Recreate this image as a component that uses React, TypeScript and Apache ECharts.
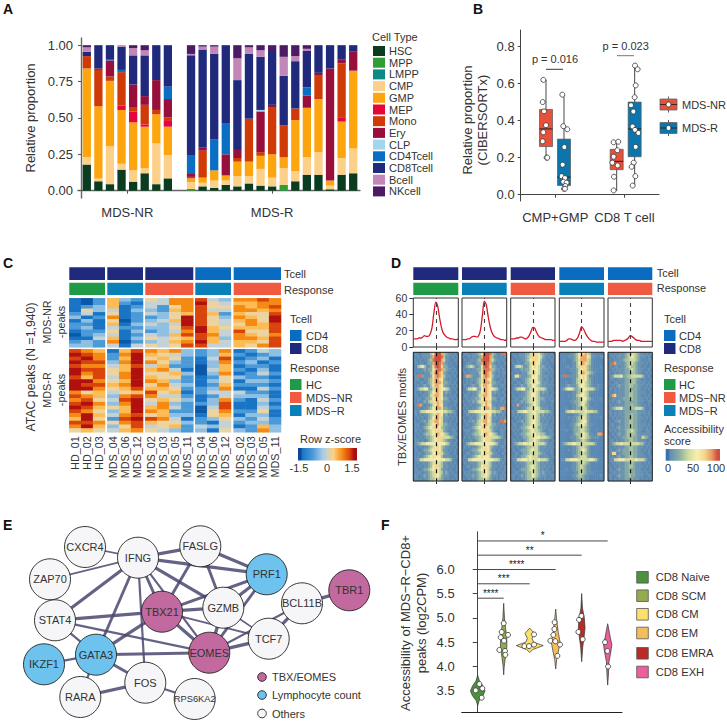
import React, { useEffect, useRef } from "react";
import * as echarts from "echarts";

const FONT = "'Liberation Sans', Arial, sans-serif";
const INK = "#333";

// ---------- Panel A ----------
const sampleSlots = ["n1","n2","n3","n4","n5","n6","n7","n8","gap","r1","r2","r3","r4","r5","r6","r7","r8","r9","r10","r11","r12","r13","r14","r15"];
const HSC = [.18,.065,.045,.145,.062,.12,.045,.085,null,0,.03,.02,.04,.03,.05,.035,.03,0,.065,.11,.11,.01,.11,.12];
const MPP = [0,0,0,0,0,0,0,0,null,.012,0,0,0,0,0,0,0,.04,0,0,0,0,0,0];
const LMPP = [0,0,0,0,0,0,0,0,null,0,0,0,0,0,0,0,0,0,0,0,0,0,0,0];
const CMP = [.05,.018,.26,.04,.078,.035,.28,.16,null,.048,.025,.05,.03,.07,.05,.115,.06,.115,.07,.12,.155,.025,.115,.17];
const GMP = [.61,.497,.45,.37,.33,.285,.2,.195,null,.025,.035,.07,.035,.1,.1,.09,.16,.075,.35,.34,.365,.035,.25,.535];
const MEP = [0,0,0,.03,.075,.015,0,.045,null,0,0,0,0,0,0,0,0,0,0,0,0,0,.03,0];
const Mono = [.085,.25,.03,.23,.025,.135,.03,.02,null,.01,.185,0,0,.025,.295,.025,.32,.22,.08,0,.165,0,.37,0];
const Ery = [0,.01,.11,0,.16,.06,.205,.125,null,.02,.02,0,.145,.055,0,.28,.02,0,0,.085,.015,.77,.025,.13];
const CLP = [0,0,0,0,0,0,0,0,null,0,0,0,0,0,0,.01,0,0,0,0,0,0,0,0];
const CD4T = [0,0,.005,.015,0,0,0,.085,null,.125,0,.215,.215,0,0,0,0,0,0,.055,0,0,0,0];
const CD8T = [.03,.16,.1,.16,.2,.28,.24,.285,null,.69,.675,.585,.535,.48,.445,.365,.37,.34,.325,.25,.19,.16,.1,.045];
const Bcell = [.03,0,0,.01,.05,.035,0,0,null,.01,.02,.05,0,.15,.045,.045,0,.13,.035,.015,0,0,0,0];
const NKcell = [.015,0,0,0,.02,.035,0,0,null,.06,.01,.01,0,.09,.015,.035,.04,.08,.075,.025,0,0,0,0];
const cellTypes: [string, (number | null)[], string][] = [
  ["HSC", HSC, "#0a3d1f"], ["MPP", MPP, "#2e9e35"], ["LMPP", LMPP, "#0e8a85"], ["CMP", CMP, "#fdd08a"],
  ["GMP", GMP, "#fda50f"], ["MEP", MEP, "#e5073a"], ["Mono", Mono, "#cf3a06"], ["Ery", Ery, "#970f3a"],
  ["CLP", CLP, "#a2d6ee"], ["CD4Tcell", CD4T, "#0a6fc4"], ["CD8Tcell", CD8T, "#1f2a7c"], ["Bcell", Bcell, "#c286b8"],
  ["NKcell", NKcell, "#4d1b66"],
];

// ---------- Panel B: [x, low, q1, median, q3, high] ----------
const boxNR = [[.366,.2,.26,.355,.46,.62],[1.388,.02,.135,.18,.245,.28]];
const boxR = [[.626,.03,.05,.095,.30,.54],[1.648,.05,.205,.355,.50,.695]];
const pointsNR = [[.327,.62],[.318,.50],[.337,.45],[.366,.375],[.327,.337],[.318,.288],[.375,.2],[.385,.2],
  [1.344,.283],[1.412,.286],[1.397,.24],[1.344,.205],[1.325,.173],[1.402,.158],[1.349,.097],[1.344,.023]];
const pointsR = [[.602,.54],[.616,.37],[.674,.353],[.631,.257],[.607,.162],[.592,.10],[.640,.09],[.616,.07],[.664,.065],[.645,.047],[.626,.032],[.640,.032],
  [1.653,.697],[1.691,.677],[1.663,.59],[1.648,.526],[1.595,.483],[1.629,.449],[1.619,.368],[1.653,.35],[1.701,.333],[1.663,.258],[1.634,.173],[1.605,.151],[1.658,.10],[1.619,.049]];

// ---------- Panel C: digits 0..9 stand for z-score -1.5..1.5 ----------
const cSamples = [["HD_01","HD_02","HD_03"],["MDS_04","MDS_06","MDS_12"],["MDS_02","MDS_03","MDS_05","MDS_11"],["MDS_04","MDS_06","MDS_12"],["MDS_02","MDS_03","MDS_05","MDS_11"]];
const cTopRows = [
  "102 632 5477 843 7787","102 621 4477 954 6677","123 612 4257 855 7678","153 413 3267 844 7767",
  "241 512 4356 862 6558","312 712 2359 853 7659","131 502 3469 854 6759","221 613 4349 854 5768",
  "231 422 3358 965 6668","122 513 2347 964 8558","023 412 4368 874 7657","114 613 5456 863 7768",
  "232 702 3467 964 6658","332 414 5458 844 6578",
];
const cBottomRows = [
  "876 168 7673 237 1243","987 279 6543 236 2123","897 269 5652 148 1231","988 379 7532 137 2312",
  "877 468 4622 036 1221","988 569 6741 046 2131","978 579 5563 037 1242","868 479 6552 125 3221",
  "997 569 7632 135 1332","988 679 5743 126 2221","997 568 6652 237 1142","756 456 8561 244 4221",
  "876 378 7442 124 3331","785 489 5653 137 2142","897 379 4732 238 1131","986 569 6742 048 1142",
  "875 369 7622 057 2251","796 478 5633 156 1331","695 289 8741 235 3242","887 578 6553 214 2332",
  "796 358 4562 434 1263","565 467 5432 315 3273",
];

// ---------- Panel D ----------
const lineProfile1 = [10,10,10,11,11,12,14,13,13,16,24,42,55,50,36,24,17,14,12,11,10,10,9,9,10];
const lineProfile2 = [9,9,9,10,10,12,13,13,12,14,22,40,56,52,38,26,18,14,12,11,10,9,9,8,9];
const lineProfile3 = [10,10,10,11,11,12,12,11,10,11,14,19,24,23,18,14,12,11,10,9,9,9,9,8,8];
const lineProfile4 = [7,7,7,7,8,10,10,9,8,9,12,18,25,22,17,13,10,8,7,7,6,6,6,6,6];
const lineProfile5 = [7,7,7,8,8,8,8,8,7,8,9,11,14,13,11,9,8,8,7,7,7,7,7,7,7];
const dLines = [lineProfile1, lineProfile2, lineProfile3, lineProfile4, lineProfile5];

const dHeat1 = [
"010011113689973211010","001011112799983110101","100101123899974110011","010110122789872101001",
"003453112689862210100","001012122578873211010","100101113688762100101","018821112578763111010",
"011001123677652101001","100110123677762211010","001012113577652110101","012445522467655431010",
"100101123567651211001","010011124677651101010","001101223566652210101","101012134667641110011",
"018710112457651101010","001001123567762211001","110344555555554433210","010101123467651201010",
"001010123567641110101","100112134677541101001","011001234567642211010","101012345666532110101",
"010101234566642100110","001012334567654320111","100101223456664443210","011010123456643211001",
"012344555555555431010","100101123456532110101","010012234566531101010","001101223556642110010",
"101012345655531111001","011445555555555443100","001011123455431101010","100101123566431110101",
"010012234565421101001","001101123465431210100","110012123465421110011","010101123354321010101"];
const dHeat2 = [
"011001123689983210188","100101112799973110101","010011123899974211010","001110122799872101001",
"012343112689862210100","100101122688873211010","010011113688762101011","017721112578763111010",
"001011123677652100101","101010123677762211001","010012113577652110110","002445522567655431001",
"100101123567651211010","011001124677651101001","001011223566652210110","100102134667641110101",
"010010112457651101010","101001123567762211778","010344555555554433201","001101123467651201010",
"100010123567641110101","010112134677541101887","001001234567642211010","100012345666532110101",
"011101234566642100110","001012334567654320110","010101223456664443210","100010123456643211001",
"002344555555555431001","010101123456532110110","100012234566531101001","001101223556642110010",
"010012345655531111001","101445555555555443101","010011123455431101010","001101123566431110101",
"100012234565421101001","010101123465431210010","001012123465421110101","100101123354321010110"];
const dHeat3 = [
"010011122456653211010","001011123466654210101","100101123566653110011","010110122466552101001",
"003443112456542210100","001012122455542111010","100101113456542100101","016621112355532111010",
"011001123455532101001","100110123456542111010","001012113355432110101","012445522445544431010",
"100101123455431211001","010011123455431101010","001101223455432210101","101012123445431110011",
"010710112345431101010","001001123445542111001","110344554455444433210","010101123445431201010",
"001010123445431110101","100112123455431101001","011001223455432111010","101012234554422110101",
"010101223454432100110","001012234455443320111","100101223445554443210","011010123445432211001",
"012344554555444431010","100101123344421110101","010012223454421101010","001101223444432110010",
"101012234544421111001","011445554544454443100","001011123344321101010","100101123454321110101",
"010012223454321101001","001101123354321210100","110012123354321110011","010101123343211010101"];
const dHeat4 = [
"000001123566743100000","000011123577754110011","001000123677743100000","000000113567643100000",
"000110113466632100010","000001112456632100000","000000112567643210000","018811112456531100000",
"000000113456532100000","000100113455432100000","000121112455432100100","012455422345544431100",
"000000112345431100000","000010113455431000000","000000112345532100010","000001122345421000000",
"000000112345321000000","000100112234421100000","000344544444544433100","000000011234421000000",
"000010112345421000010","000000112345521000000","000001123455421100000","000000122344321000000",
"000100122344321000000","000000123345431100778","000001112345432111100","000000112234321000000",
"012344554444444431000","000000112344321000000","000010112345421000000","000000112344321000000",
"000000122344421100000","011445555444445543100","000000112344321000000","000000112343211000000",
"000100112343211000000","000000011343211100000","000000112332110000010","000000011232110000000"];
const dHeat5 = [
"010101112344432110101","001011112345432111010","100101123344432101011","018711112344321110101",
"010110112343321101001","001011112234321110010","100101112233321100101","012444522334444431010",
"011001112233321101001","100110112233321111010","001012112233221110101","010101112232221101010",
"100101112233221111001","017611112233221101010","001101122233221110101","101012112222221110011",
"010101112223221101010","012344522223344431001","110101112222221111010","010101112223221101010",
"001010112223221110101","100112112233221101001","011001112233221111010","101012112233221110101",
"010101112334321100110","001012112333321111111","100101122333221143210","011010112233221111001",
"012344544444444331010","100101112233221110101","010012122233221101010","016601122233221110010",
"101012112233221111001","011445554444454443100","001011112233211101010","100101112233211110101",
"010012112232211101001","001101112232211110100","110012112232211110011","010101112222111010101"];
const dHeats = [dHeat1, dHeat2, dHeat3, dHeat4, dHeat5];
const dCols = 21;

// ---------- Panel E ----------
const geneNodes: [string, number, number, string, number][] = [
  ["CXCR4",85,547,"o",11],["IFNG",138,557.7,"o",11],["FASLG",200.3,546.3,"o",11],["PRF1",266.7,574.3,"l",11],
  ["TBR1",349.3,590.3,"t",11],["ZAP70",50,579.3,"o",11],["BCL11B",302,603.3,"o",11],["STAT4",55,620.3,"o",11],
  ["TBX21",162,611.7,"t",11],["GZMB",223.3,607.7,"o",11],["TCF7",268.7,638.7,"o",11],["GATA3",96,654.7,"l",11],
  ["EOMES",209.3,652.7,"t",11],["IKZF1",44,664.3,"l",11],["FOS",145.3,682.7,"o",11],["RARA",80.3,697,"o",11],["RPS6KA2",194.7,699,"o",9.3],
];
const geneEdges: [string, string, number][] = [
  ["CXCR4","IFNG",1.6],["ZAP70","IFNG",1.6],["IFNG","FASLG",3],["IFNG","PRF1",3],["IFNG","TBX21",2.6],["IFNG","GZMB",3],
  ["IFNG","STAT4",3],["IFNG","GATA3",2.6],["IFNG","EOMES",2],["IFNG","FOS",2],["FASLG","PRF1",3],["FASLG","TBX21",2.6],
  ["FASLG","GZMB",2.6],["PRF1","GZMB",3],["PRF1","TBX21",2.6],["PRF1","EOMES",2.6],["TBX21","GZMB",3],["TBX21","EOMES",3],
  ["TBX21","STAT4",3],["TBX21","GATA3",3],["TBX21","TCF7",1.6],["GZMB","EOMES",3],["GZMB","TCF7",1.6],["EOMES","TCF7",3],
  ["EOMES","GATA3",2.6],["EOMES","STAT4",2],["EOMES","BCL11B",2],["TCF7","BCL11B",3],["BCL11B","TBR1",3],["STAT4","GATA3",2],
  ["GATA3","IKZF1",2],["GATA3","FOS",2.6],["GATA3","RARA",2],["FOS","RARA",3],["FOS","RPS6KA2",2],
];

// ---------- Panel F ----------
const violinNames = ["CD8 Naive","CD8 SCM","CD8 CM","CD8 EM","CD8 EMRA","CD8 EXH"];
const violinColors = ["#4f9040","#93ab4f","#fbe06b","#f4be5d","#b92c25","#ea5f9c"];
const violinNaive = [[3.2,0],[3.3,.06],[3.4,.2],[3.5,.28],[3.6,.2],[3.7,.07],[3.82,0]];
const violinSCM = [[3.83,0],[4.0,.02],[4.2,.07],[4.4,.12],[4.6,.12],[4.8,.07],[5.0,.03],[5.3,0]];
const violinCM = [[4.29,0],[4.35,.12],[4.43,.52],[4.5,.15],[4.58,.09],[4.68,.18],[4.79,0]];
const violinEM = [[3.95,0],[4.15,.04],[4.3,.1],[4.5,.17],[4.7,.1],[4.9,.05],[5.18,0]];
const violinEMRA = [[4.1,0],[4.4,.04],[4.6,.09],[4.8,.13],[5.0,.1],[5.2,.03],[5.5,0]];
const violinEXH = [[3.62,0],[3.85,.03],[4.1,.05],[4.3,.12],[4.45,.16],[4.6,.1],[4.88,0]];
const violins = [violinNaive, violinSCM, violinCM, violinEM, violinEMRA, violinEXH];
const violinPoints = [
  [.064,3.64],[.18,3.55],[-.077,3.51],[.154,3.36],
  [1,4.89],[.923,4.71],[1.167,4.65],[.885,4.6],[1.013,4.53],[.833,4.34],[1.051,4.32],[1.064,4.24],
  [2.167,4.66],[1.795,4.42],[1.974,4.42],[2.167,4.45],
  [2.96,4.91],[2.95,4.77],[2.91,4.65],[2.795,4.53],[2.987,4.52],[3.167,4.45],[3.064,4.22],
  [3.987,5.04],[3.897,4.96],[3.872,4.71],[4.038,4.56],
  [4.897,4.5],[4.987,4.32],[5.013,4.0],
];
const brackets: [number, number, string][] = [[1,5.404,"****"],[2,5.70,"***"],[3,5.993,"****"],[4,6.288,"**"],[5,6.58,"*"]];

// ---------- colours ----------
const C_CD8 = "#1f2a7c", C_CD4 = "#0a6cc0", C_HC = "#1f9a46", C_NR = "#f05a40", C_R = "#0a80b8";
const zColors = ["#0c58a8","#1a74c6","#4b9ad8","#8fc0e2","#c4d2d6","#ecd3a0","#fdbb55","#f58a12","#d8440c","#b0100e"];
const scoreColors = ["#5a88b4","#6a93b1","#85a9a6","#a8c2a0","#cfd9a4","#f0eaae","#f5d88f","#eba66a","#dc7350","#cc4f3e"];

function buildOption() {
  const grids: any[] = [], xAxes: any[] = [], yAxes: any[] = [], series: any[] = [], g: any[] = [];

  const panel = (grid: any, x: any, y: any) => {
    const i = grids.length;
    grids.push({ containLabel: false, ...grid });
    xAxes.push({ gridIndex: i, ...x });
    yAxes.push({ gridIndex: i, ...y });
    return i;
  };
  const text = (x: number, y: number, s: string, size = 11, o: any = {}) =>
    g.push({
      type: "text", x, y, rotation: o.rot || 0, z: 60,
      style: { text: s, fontSize: size, fontFamily: FONT, fontWeight: o.bold ? "bold" : "normal", fill: o.fill || INK, align: o.align || "left", verticalAlign: "middle", lineHeight: o.lh },
    });
  const rect = (x: number, y: number, w: number, h: number, fill: any, stroke?: string) =>
    g.push({ type: "rect", z: 60, shape: { x, y, width: w, height: h }, style: { fill, stroke, lineWidth: stroke ? 0.8 : 0 } });
  const line = (x1: number, y1: number, x2: number, y2: number, stroke: string, lw = 1) =>
    g.push({ type: "line", z: 60, shape: { x1, y1, x2, y2 }, style: { stroke, lineWidth: lw } });
  const circle = (cx: number, cy: number, r: number, fill: string, stroke = "#222") =>
    g.push({ type: "circle", z: 61, shape: { cx, cy, r }, style: { fill, stroke, lineWidth: 0.9 } });

  [["A",3,9],["B",473,9],["C",3,263],["D",391,263],["E",3,525],["F",381,525]].forEach(([l,x,y]: any) => text(x, y, l, 14, { bold: true, fill: "#111" }));

  // ----- A -----
  const aBars = panel({ left: 81, top: 37.9, width: 278, height: 160.1 },
    { type: "category", data: sampleSlots, show: false },
    { type: "value", min: -0.05, max: 1.05, show: false });
  panel({ left: 78, top: 37.9, width: 282, height: 160.1 },
    { type: "value", min: -0.26, max: 24.09, splitLine: { show: false },
      axisLine: { lineStyle: { color: "#666", width: 1.4 } }, axisTick: { length: 3, lineStyle: { color: "#555" }, customValues: [4, 16.5] },
      axisLabel: { customValues: [4, 16.5], fontSize: 13, color: INK, margin: 8, formatter: (v: number) => (v < 10 ? "MDS-NR" : "MDS-R") } },
    { type: "value", min: -0.05, max: 1.05, splitLine: { show: false }, name: "Relative proportion", nameLocation: "middle", nameGap: 41,
      nameTextStyle: { fontSize: 13, color: INK },
      axisLine: { show: true, lineStyle: { color: "#666", width: 1.4 } }, axisTick: { show: true, length: 3, lineStyle: { color: "#555" }, customValues: [0, .25, .5, .75, 1] },
      axisLabel: { customValues: [0, .25, .5, .75, 1], fontSize: 13, color: INK, margin: 5, formatter: (v: number) => v.toFixed(2) } });
  cellTypes.forEach(([name, data, color]) =>
    series.push({ type: "bar", name, data, stack: "a", xAxisIndex: aBars, yAxisIndex: aBars, barWidth: 8.3, itemStyle: { color } }));
  text(372, 37, "Cell Type", 11);

  // ----- B -----
  const bI = panel({ left: 520.7, top: 30, width: 138.3, height: 171 },
    { type: "value", min: 0, max: 2, splitLine: { show: false },
      axisLine: { lineStyle: { color: "#444" } }, axisTick: { length: 3, lineStyle: { color: "#444" }, customValues: [.5, 1.5] },
      axisLabel: { customValues: [.5, 1.5], fontSize: 13, color: INK, margin: 10, formatter: (v: number) => (v < 1 ? "CMP+GMP" : "CD8 T cell") } },
    { type: "value", min: -0.034, max: 0.889, splitLine: { show: false },
      axisLine: { show: true, lineStyle: { color: "#444" } }, axisTick: { show: true, length: 3, lineStyle: { color: "#444" }, customValues: [0, .2, .4, .6, .8] },
      axisLabel: { customValues: [0, .2, .4, .6, .8], fontSize: 13, color: INK, margin: 6, formatter: (v: number) => v.toFixed(1) } });
  const boxSeries = (name: string, data: number[][], fill: string) =>
    series.push({
      type: "custom", name, data, xAxisIndex: bI, yAxisIndex: bI, encode: { x: 0, y: [1, 2, 3, 4, 5] },
      renderItem: (_p: any, api: any) => {
        const x = api.value(0);
        const [cx, lo] = api.coord([x, api.value(1)]);
        const q1 = api.coord([x, api.value(2)])[1], med = api.coord([x, api.value(3)])[1];
        const q3 = api.coord([x, api.value(4)])[1], hi = api.coord([x, api.value(5)])[1];
        const s = { stroke: "#333", lineWidth: 0.9 };
        return { type: "group", children: [
          { type: "line", shape: { x1: cx, y1: hi, x2: cx, y2: lo }, style: s },
          { type: "rect", shape: { x: cx - 6.5, y: q3, width: 13, height: q1 - q3 }, style: { fill, stroke: "#555", lineWidth: 0.7 } },
          { type: "line", shape: { x1: cx - 6.5, y1: med, x2: cx + 6.5, y2: med }, style: { stroke: "#222", lineWidth: 1 } },
        ] };
      },
    });
  boxSeries("MDS-NR", boxNR, "#e8503a");
  boxSeries("MDS-R", boxR, "#0b76ad");
  [pointsNR, pointsR].forEach((data) =>
    series.push({ type: "scatter", data, xAxisIndex: bI, yAxisIndex: bI, symbolSize: 5, z: 5, itemStyle: { color: "#fff", borderColor: "#333", borderWidth: 0.8, opacity: 1 } }));
  text(474.5, 120, "Relative proportion\n(CIBERSORTx)", 13, { rot: Math.PI / 2, align: "center", lh: 15 });
  text(555, 59, "p = 0.016", 11, { align: "center" });
  line(546, 69.3, 563, 69.3, "#222", 0.9);
  text(625.7, 46, "p = 0.023", 11, { align: "center" });
  line(617, 55.7, 634, 55.7, "#777", 1);
  [[104.5, "MDS-NR", "#e8503a"], [128, "MDS-R", "#0b76ad"]].forEach(([y, s, c]: any) => {
    line(668.5, y - 8, 668.5, y + 8, "#333", 0.8);
    rect(660, y - 5.5, 17, 11, c, "#666");
    line(660, y, 677, y, "#222", 0.9);
    circle(668.5, y, 2.5, "#fff", "#333");
    text(682, y, s, 11);
  });

  // ----- C -----
  const cX = [[69.3,105],[107.3,143],[145.3,193.3],[195.3,231],[233.7,281]];
  const cHeatIdx: number[] = [];
  const cBlock = (rows: string[], top: number, h: number, labels: boolean) =>
    cX.forEach(([x0, x1], gi) => {
      const names = cSamples[gi];
      const data: number[][] = [];
      rows.forEach((r, ri) => r.split(" ")[gi].split("").forEach((d, ci) => data.push([ci, ri, (Number(d) - 4.5) / 3])));
      const i = panel({ left: x0, top, width: x1 - x0, height: h },
        { type: "category", data: names, axisLine: { show: false }, axisTick: { show: false },
          axisLabel: { show: labels, rotate: 90, interval: 0, fontSize: 10.8, color: INK, margin: 4 } },
        { type: "category", inverse: true, data: rows.map((_, k) => String(k)), show: false });
      cHeatIdx.push(series.length);
      series.push({ type: "heatmap", data, xAxisIndex: i, yAxisIndex: i, progressive: 0 });
    });
  cBlock(cTopRows, 298.3, 49, false);
  cBlock(cBottomRows, 349.3, 83, true);
  const cTc = [C_CD8, C_CD8, C_CD8, C_CD4, C_CD4], cRe = [C_HC, C_R, C_NR, C_R, C_NR];
  cX.forEach(([a, b], i) => { rect(a, 267.3, b - a, 12.7, cTc[i]); rect(a, 282.7, b - a, 12.3, cRe[i]); });
  text(284, 273.5, "Tcell", 11); text(284, 289.5, "Response", 11);
  text(31, 367, "ATAC peaks (N =1,940)", 12.3, { rot: Math.PI / 2, align: "center" });
  text(54, 322, "MDS-NR\n-peaks", 10.8, { rot: Math.PI / 2, align: "center", lh: 14 });
  text(54, 390, "MDS-R\n-peaks", 10.8, { rot: Math.PI / 2, align: "center", lh: 14 });

  const legendBlock = (x: number, textX: number) => {
    text(x, 319, "Tcell", 11);
    rect(x, 330, 11.5, 11, C_CD4); text(textX, 336, "CD4", 11);
    rect(x, 343, 11.5, 11, C_CD8); text(textX, 349, "CD8", 11);
    text(x, 368, "Response", 11);
    rect(x, 379, 11.5, 11, C_HC); text(textX, 385, "HC", 11);
    rect(x, 392, 11.5, 11, C_NR); text(textX, 398, "MDS\u2212NR", 11);
    rect(x, 405, 11.5, 11, C_R); text(textX, 411, "MDS\u2212R", 11);
  };
  legendBlock(290, 306);
  text(300, 439, "Row z-score", 11);
  rect(298, 448, 59, 12.5, new echarts.graphic.LinearGradient(0, 0, 1, 0,
    [["#0c4a98",0],["#0c4a98",.05],["#1a74c6",.07],["#4b9ad8",.25],["#a8cce5",.42],["#d0d0c4",.5],["#fdd080",.6],["#f58a12",.75],["#d8440c",.88],["#a80c10",.95],["#a80c10",1]].map(([c, offset]: any) => ({ offset, color: c }))));
  text(299, 468, "-1.5", 11, { align: "center" }); text(327, 468, "0", 11, { align: "center" }); text(352, 468, "1.5", 11, { align: "center" });

  // ----- D -----
  const dX = [[413.3,458.3],[462,506.7],[510.7,555],[559.3,604],[608,652.3]];
  const dTc = [C_CD8, C_CD8, C_CD8, C_CD4, C_CD4], dRe = [C_HC, C_R, C_NR, C_R, C_NR];
  const dHeatIdx: number[] = [];
  const dCenter = (dCols - 1) / 2;
  dX.forEach(([a, b], i) => {
    rect(a, 267.3, b - a, 12.7, dTc[i]); rect(a, 282.7, b - a, 12.3, dRe[i]);
    const li = panel({ left: a, top: 298, width: b - a, height: 49, show: true, borderColor: "#333", borderWidth: 1 },
      { type: "value", min: 0, max: 24, splitLine: { show: false }, axisLine: { show: false },
        axisTick: { show: true, length: 3, lineStyle: { color: "#333" }, customValues: [12] }, axisLabel: { show: false } },
      { type: "value", min: 0, max: 60, interval: 20, splitLine: { show: false }, axisLine: { show: false },
        axisTick: { show: i === 0, length: 4, lineStyle: { color: "#333" } },
        axisLabel: { show: i === 0, fontSize: 10.5, color: INK, margin: 6 } });
    series.push({
      type: "line", data: dLines[i].map((v, k) => [k, v]), xAxisIndex: li, yAxisIndex: li, symbol: "none", smooth: 0.3,
      lineStyle: { color: "#d7192a", width: 1.3 },
      markLine: { silent: true, symbol: "none", label: { show: false }, lineStyle: { color: "#444", type: [4, 4], width: 1.1 }, data: [{ xAxis: 12 }] },
    });
    const rows = dHeats[i].map((r) => r.padEnd(dCols, "0").slice(0, dCols));
    const cols = rows[0].split("").map((_, k) => String(k));
    const data: number[][] = [];
    rows.forEach((r, ri) => r.split("").forEach((d, ci) => data.push([ci, ri, (Number(d) * 100) / 9])));
    const hi = panel({ left: a, top: 352.3, width: b - a, height: 128.7 },
      { type: "category", data: cols, axisLine: { show: false },
        axisTick: { show: true, alignWithLabel: true, interval: (k: number) => k === dCenter, length: 3, lineStyle: { color: "#222" } }, axisLabel: { show: false } },
      { type: "category", inverse: true, data: rows.map((_, k) => String(k)), show: false });
    dHeatIdx.push(series.length);
    series.push({
      type: "heatmap", data, xAxisIndex: hi, yAxisIndex: hi, progressive: 0,
      markLine: { silent: true, symbol: "none", z: 10, label: { show: false }, lineStyle: { color: "#111", type: [4, 5], width: 1.2 }, data: [{ xAxis: dCenter }] },
    });
    g.push({ type: "rect", z: 59, shape: { x: a, y: 352.3, width: b - a, height: 128.7 }, style: { fill: "none", stroke: "#222", lineWidth: 1 } });
  });
  text(656.7, 273, "Tcell", 11); text(656.7, 288, "Response", 11);
  text(402, 417, "TBX/EOMES motifs", 11.2, { rot: Math.PI / 2, align: "center" });
  legendBlock(664, 679);
  text(664, 429, "Accessibility", 11); text(664, 441, "score", 11);
  rect(665.7, 449, 54.3, 11.7, new echarts.graphic.LinearGradient(0, 0, 1, 0,
    [["#3d70b0",0],["#3d70b0",.05],["#5f8fb4",.08],["#8cae9f",.25],["#d0dca0",.42],["#f7efb0",.58],["#f4d58c",.72],["#e89a62",.85],["#cf4f40",.95],["#cf4f40",1]].map(([c, offset]: any) => ({ offset, color: c }))));
  text(668, 468, "0", 11, { align: "center" }); text(693, 468, "50", 11, { align: "center" }); text(716, 468, "100", 11, { align: "center" });

  // ----- E -----
  const eI = panel({ left: 0, top: 0, width: 727, height: 721 },
    { type: "value", min: 0, max: 727, show: false, splitLine: { show: false } },
    { type: "value", min: 0, max: 721, inverse: true, show: false, splitLine: { show: false } });
  const nodeColor: any = { t: "#c2699f", l: "#6ec3ee", o: "#f6f6f8" };
  series.push({
    type: "graph", coordinateSystem: "cartesian2d", layout: "none", xAxisIndex: eI, yAxisIndex: eI,
    symbolSize: 41, symbol: "circle",
    data: geneNodes.map(([name, x, y, kind, fs]) => ({
      name, value: [x, y], itemStyle: { color: nodeColor[kind], borderColor: "#222", borderWidth: 0.9, opacity: 1 },
      label: { show: true, position: "inside", formatter: "{b}", fontSize: fs, color: "#333" },
    })),
    links: geneEdges.map(([source, target, width]) => ({ source, target, lineStyle: { width: width * 1.1, color: "#4a4870", opacity: 0.85, curveness: 0 } })),
  });
  [[677, "#c2699f", "TBX/EOMES"], [695, "#6ec3ee", "Lymphocyte count"], [713.5, "#f6f6f8", "Others"]].forEach(([y, c, s]: any) => {
    circle(262, y, 4.3, c); text(272, y, s, 11);
  });

  // ----- F -----
  const fI = panel({ left: 461.7, top: 531.7, width: 160.3, height: 180.6 },
    { type: "value", min: -0.615, max: 5.55, splitLine: { show: false }, axisLine: { lineStyle: { color: "#222" } }, axisTick: { show: false }, axisLabel: { show: false } },
    { type: "value", min: 3.06, max: 6.77, splitLine: { show: false },
      axisLine: { show: true, lineStyle: { color: "#444" } }, axisTick: { show: true, length: 5, lineStyle: { color: "#444" }, customValues: [3.5, 4, 4.5, 5, 5.5, 6] },
      axisLabel: { customValues: [3.5, 4, 4.5, 5, 5.5, 6], fontSize: 13, color: INK, margin: 7, formatter: (v: number) => v.toFixed(1) } });
  series.push({
    type: "custom", name: "violins", data: violinNames.map((_, i) => [i, 4.5]), xAxisIndex: fI, yAxisIndex: fI, encode: { x: 0, y: 1 },
    renderItem: (p: any, api: any) => {
      const i = api.value(0);
      const prof = violins[p.dataIndex];
      const left = prof.map(([y, h]) => api.coord([i - h, y]));
      const right = prof.slice().reverse().map(([y, h]) => api.coord([i + h, y]));
      return { type: "polygon", shape: { points: left.concat(right) }, style: { fill: violinColors[p.dataIndex], stroke: "#333", lineWidth: 0.7 } };
    },
  });
  series.push({ type: "scatter", data: violinPoints, xAxisIndex: fI, yAxisIndex: fI, symbolSize: 5, z: 5, itemStyle: { color: "#fff", borderColor: "#333", borderWidth: 0.8, opacity: 1 } });
  series.push({
    type: "custom", name: "brackets", data: brackets.map(([k, y]) => [k, y]), xAxisIndex: fI, yAxisIndex: fI, encode: { x: 0, y: 1 },
    renderItem: (p: any, api: any) => {
      const a = api.coord([0, api.value(1)]), b = api.coord([api.value(0), api.value(1)]);
      return { type: "group", children: [
        { type: "line", shape: { x1: a[0], y1: a[1], x2: b[0], y2: b[1] }, style: { stroke: "#333", lineWidth: 0.9 } },
        { type: "text", x: (a[0] + b[0]) / 2, y: a[1] - 5, style: { text: brackets[p.dataIndex][2], fontSize: 10, fontFamily: FONT, fill: "#222", stroke: "none", align: "center", verticalAlign: "middle" } },
      ] };
    },
  });
  text(413.5, 623, "Accessibility of MDS\u2212R\u2212CD8+\npeaks (log2CPM)", 13, { rot: Math.PI / 2, align: "center", lh: 16 });
  const fLegendY = [577.3, 595.7, 614.3, 633, 653.3, 672];
  violinNames.forEach((s, i) => { rect(636.7, fLegendY[i] - 5.8, 11.6, 11.6, violinColors[i], "#555"); text(655.7, fLegendY[i], s, 11.2); });

  return {
    animation: false,
    textStyle: { fontFamily: FONT },
    grid: grids, xAxis: xAxes, yAxis: yAxes, series,
    legend: {
      orient: "vertical", left: 373, top: 45.5, itemWidth: 12, itemHeight: 10, itemGap: 0.7, icon: "rect", padding: 0,
      selectedMode: false, data: cellTypes.map((c) => c[0]),
      textStyle: { fontSize: 11, color: INK, lineHeight: 10, padding: [0, 0, 0, -1] },
    },
    visualMap: [
      { show: false, type: "continuous", min: -1.5, max: 1.5, seriesIndex: cHeatIdx, dimension: 2, inRange: { color: zColors } },
      { show: false, type: "continuous", min: 0, max: 100, seriesIndex: dHeatIdx, dimension: 2, inRange: { color: scoreColors } },
    ],
    graphic: { elements: g },
  };
}

export default function App() {
  const ref = useRef<HTMLDivElement>(null);
  useEffect(() => {
    document.body.style.margin = "0";
    const chart = echarts.init(ref.current!, undefined, { renderer: "svg" });
    chart.setOption(buildOption() as any);
    return () => chart.dispose();
  }, []);
  return <div ref={ref} style={{ width: 727, height: 721, background: "#fff" }} />;
}
